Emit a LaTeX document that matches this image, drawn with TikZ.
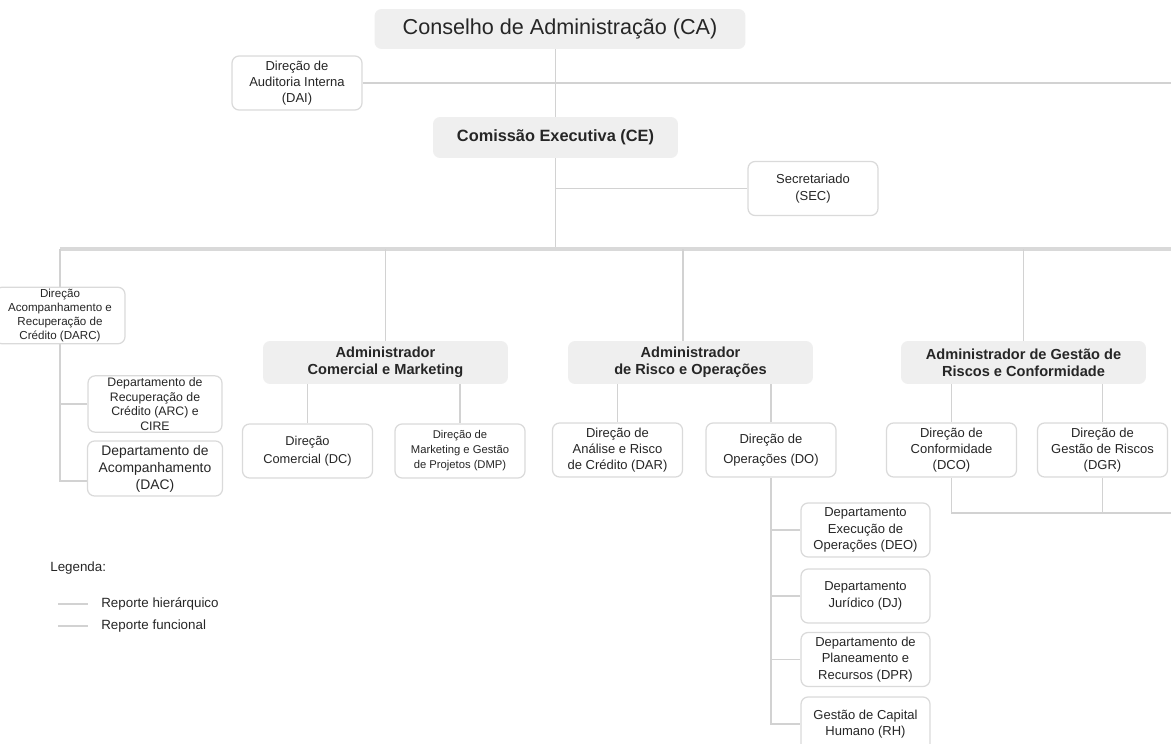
\documentclass[tikz,border=0pt]{standalone}
\usepackage{fontspec}
\setmainfont{Liberation Sans}
\usepackage{xcolor}
\usetikzlibrary{positioning,calc,backgrounds}

\definecolor{headgray}{HTML}{EFEFEF}
\definecolor{boxgray}{HTML}{DADADA}
\definecolor{linegray}{HTML}{D2D2D2}
\definecolor{txtgray}{HTML}{262626}

\begin{document}
\begin{tikzpicture}[x=0.02cm, y=-0.02cm,
  head/.style={fill=headgray, rounded corners=4pt, text=txtgray, align=center, inner sep=1pt,
    minimum width=4.9cm, minimum height=0.86cm, font=\bfseries\fontsize{8.3}{9.7}\selectfont},
  unit/.style={draw=boxgray, line width=0.7pt, fill=white, rounded corners=4pt, text=txtgray,
    align=center, inner sep=1pt, minimum width=2.6cm, minimum height=1.08cm,
    font=\fontsize{7.4}{9.3}\selectfont},
  link/.style={draw=linegray, line width=1.1pt},
  bus/.style={draw=linegray!85, line width=2.4pt},
  legtxt/.style={anchor=west, inner sep=0pt, text=txtgray, font=\fontsize{7.6}{9}\selectfont}]

        \useasboundingbox (0,0) rectangle (1171,744);

        % Top
        \node[head, minimum width=7.42cm, minimum height=0.8cm, font=\fontsize{12.3}{14}\selectfont] (CA) at (560,29) {Conselho de Administração (CA)};
        \node[unit] (DAI) at (297,83) {Direção de\\Auditoria Interna\\(DAI)};
        \node[head, minimum height=0.82cm, font=\bfseries\fontsize{9.3}{11}\selectfont] (CE) at (555.5,137.5) {Comissão Executiva (CE)};
        \node[unit] (SEC) at (813,188.5) {Secretariado\\(SEC)};

        % Left branch
        \node[unit, minimum height=1.1cm, font=\fontsize{6.6}{8}\selectfont] (DARC) at (60,315.5) {Direção\\Acompanhamento e\\Recuperação de\\Crédito (DARC)};
        \node[unit, minimum width=2.68cm, minimum height=1.12cm, font=\fontsize{7}{8.3}\selectfont] (ARC) at (155,404) {Departamento de\\Recuperação de\\Crédito (ARC) e\\CIRE};
        \node[unit, minimum width=2.7cm, minimum height=1.1cm, font=\fontsize{7.9}{9.7}\selectfont] (DAC) at (155,468.5) {Departamento de\\Acompanhamento\\(DAC)};

        % Administrators
        \node[head] (ACM) at (385.5,362.5) {Administrador\\Comercial e Marketing};
        \node[head] (ARO) at (690.5,362.5) {Administrador\\de Risco e Operações};
        \node[head] (AGR) at (1023.5,362.5) {Administrador de Gestão de\\Riscos e Conformidade};

        % Directions
        \node[unit, font=\fontsize{7.3}{10.2}\selectfont] (DC) at (307.5,451) {Direção\\Comercial (DC)};
        \node[unit, font=\fontsize{6.4}{8.5}\selectfont] (DMP) at (460,451) {Direção de\\Marketing e Gestão\\de Projetos (DMP)};
        \node[unit] (DAR) at (617.5,450) {Direção de\\Análise e Risco\\de Crédito (DAR)};
        \node[unit, font=\fontsize{7.4}{11.3}\selectfont] (DO) at (771,450) {Direção de\\Operações (DO)};
        \node[unit] (DCO) at (951.5,450) {Direção de\\Conformidade\\(DCO)};
        \node[unit] (DGR) at (1102.5,450) {Direção de\\Gestão de Riscos\\(DGR)};

        % Operations departments
        \node[unit, minimum width=2.58cm] (DEO) at (865.5,530) {Departamento\\Execução de\\Operações (DEO)};
        \node[unit, minimum width=2.58cm] (DJ) at (865.5,596) {Departamento\\Jurídico (DJ)};
        \node[unit, minimum width=2.58cm] (DPR) at (865.5,659.5) {Departamento de\\Planeamento e\\Recursos (DPR)};
        \node[unit, minimum width=2.58cm] (RH) at (865.5,724) {Gestão de Capital\\Humano (RH)};

        % Legend
        \node[legtxt] (leg) at (50,568) {Legenda:};
        \node[legtxt] (hier) at (101,604) {Reporte hierárquico};
        \node[legtxt] (func) at (101,626) {Reporte funcional};
        \draw[link, line width=0.6pt] ($(hier.west)+(-43,0)$) -- ++(30,0);
        \draw[link, line width=0.6pt] ($(func.west)+(-43,0)$) -- ++(30,0);

        % Connectors
        \begin{scope}[on background layer]
          \coordinate (busL) at (60,249);
          \coordinate (busR) at (1175,249);
          \coordinate (daiEnd) at (1175,83);
          \coordinate (dacIn) at (87,481);
          \coordinate (confEnd) at (1175,513);
          \coordinate (aroIn) at (683,341);
          \draw[link] (CE.north) -- (CE.north |- CA.south);
          \draw[link] (DAI.east) -- (daiEnd);
          \draw[link] (SEC.west) -- (SEC.west -| CE.south);
          \draw[link] (CE.south) -- (CE.south |- busL);
          \draw[bus] (busL) -- (busR);
          \draw[link, line width=1.4pt] (busL) |- (dacIn);
          \draw[link] (ARC.west) -- (ARC.west -| busL);
          \foreach \n in {ACM,AGR} {
            \draw[link] (\n.north) -- (\n.north |- busL);
          }
          \draw[link] (aroIn) -- (aroIn |- busL);
          \foreach \n/\m in {DC/ACM,DMP/ACM,DAR/ARO,DO/ARO,DCO/AGR,DGR/AGR} {
            \draw[link] (\n.north) -- (\n.north |- \m.south);
          }
          \draw[link] (DO.south) |- (RH.west);
          \foreach \n in {DEO,DJ,DPR} {
            \draw[link] (\n.west) -- (\n.west -| DO.south);
          }
          \draw[link] (DCO.south) |- (confEnd);
          \draw[link] (DGR.south) -- (DGR.south |- confEnd);
        \end{scope}
\end{tikzpicture}
\end{document}
